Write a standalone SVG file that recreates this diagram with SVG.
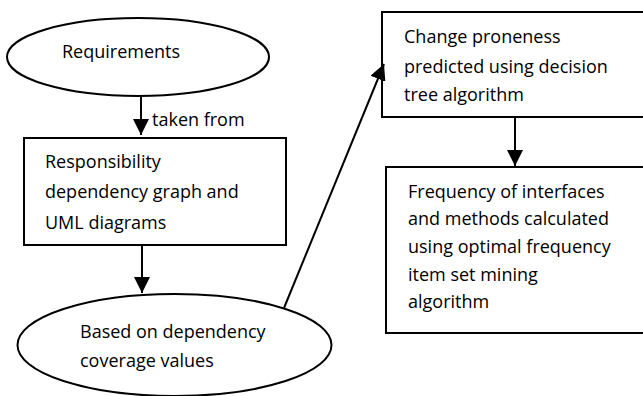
<svg xmlns="http://www.w3.org/2000/svg" width="643" height="396" viewBox="0 0 643 396">
<style>
.shape{fill:#fff;stroke:#000;stroke-width:2}
.conn{stroke:#000;stroke-width:2;fill:none}
text{font-family:"Open Sans","Liberation Sans",sans-serif;font-size:18px;fill:#000}
</style>
<defs>
<marker id="ah" markerUnits="userSpaceOnUse" markerWidth="16" markerHeight="16" refX="16" refY="8" orient="auto">
<path d="M0,0 L16,8 L0,16 Z" fill="#000"/>
</marker>
</defs>
<rect width="643" height="396" fill="#fff"/>
<g id="n-requirements">
<ellipse class="shape" cx="138" cy="57" rx="131" ry="39"/>
<text x="62" y="58">Requirements</text>
</g>
<g id="n-responsibility">
<rect class="shape" x="24" y="138" width="262" height="107"/>
<text x="45" y="168">Responsibility</text>
<text x="45" y="198">dependency graph and</text>
<text x="45" y="229">UML diagrams</text>
</g>
<g id="n-based">
<ellipse class="shape" cx="174.5" cy="345" rx="157" ry="51"/>
<text x="80" y="338">Based on dependency</text>
<text x="80" y="367">coverage values</text>
</g>
<g id="n-change">
<rect class="shape" x="382" y="12" width="270" height="105"/>
<text x="404" y="43">Change proneness</text>
<text x="404" y="73">predicted using decision</text>
<text x="404" y="101">tree algorithm</text>
</g>
<g id="n-frequency">
<rect class="shape" x="386" y="167" width="270" height="166"/>
<text x="408" y="198">Frequency of interfaces</text>
<text x="408" y="225">and methods calculated</text>
<text x="408" y="253">using optimal frequency</text>
<text x="408" y="281">item set mining</text>
<text x="408" y="308">algorithm</text>
</g>
<g id="connectors">
<line class="conn" x1="141" y1="97" x2="141" y2="135" marker-end="url(#ah)"/>
<text x="152" y="126">taken from</text>
<line class="conn" x1="142" y1="246" x2="142" y2="293" marker-end="url(#ah)"/>
<line class="conn" x1="284" y1="308" x2="384" y2="64" marker-end="url(#ah)"/>
<line class="conn" x1="515" y1="118" x2="515" y2="166" marker-end="url(#ah)"/>
</g>
</svg>
